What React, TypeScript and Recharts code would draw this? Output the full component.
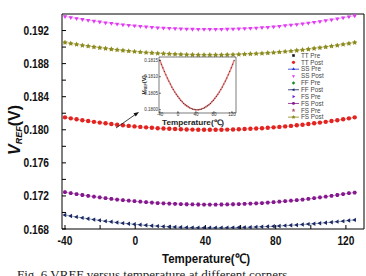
import { LineChart, Line, XAxis, YAxis } from 'recharts'

// temperature sweep (℃)
const temps = [
  -40, -36.7, -33.4, -30.1, -26.8, -23.5, -20.2, -16.9, -13.6, -10.3, -7, -3.7, -0.4, 2.9, 6.2, 9.5, 12.8,
  16.1, 19.4, 22.7, 26, 29.3, 32.6, 35.9, 39.2, 42.5, 45.8, 49.1, 52.4, 55.7, 59, 62.3, 65.6, 68.9, 72.2,
  75.5, 78.8, 82.1, 85.4, 88.7, 92, 95.3, 98.6, 101.9, 105.2, 108.5, 111.8, 115.1, 118.4, 121.7, 125,
]

// VREF (V) per corner
const ssVals = [
  0.1937, 0.19358, 0.19346, 0.19335, 0.19324, 0.19314, 0.19305, 0.19295, 0.19287, 0.19278, 0.19271, 0.19264,
  0.19257, 0.19251, 0.19245, 0.1924, 0.19235, 0.19231, 0.19227, 0.19224, 0.19221, 0.19219, 0.19217, 0.19216,
  0.19215, 0.19215, 0.19215, 0.19216, 0.19217, 0.19219, 0.19222, 0.19224, 0.19228, 0.19232, 0.19236, 0.19241,
  0.19247, 0.19253, 0.1926, 0.19267, 0.19274, 0.19283, 0.19291, 0.19301, 0.1931, 0.19321, 0.19331, 0.19343,
  0.19355, 0.19367, 0.1938,
]
const sfVals = [
  0.19055, 0.19043, 0.19032, 0.19021, 0.19011, 0.19001, 0.18992, 0.18983, 0.18974, 0.18966, 0.18959, 0.18952,
  0.18946, 0.1894, 0.18934, 0.18929, 0.18924, 0.1892, 0.18917, 0.18914, 0.18911, 0.18909, 0.18907, 0.18906,
  0.18905, 0.18905, 0.18905, 0.18906, 0.18907, 0.18909, 0.18911, 0.18914, 0.18917, 0.1892, 0.18924, 0.18929,
  0.18934, 0.1894, 0.18946, 0.18952, 0.18959, 0.18966, 0.18974, 0.18983, 0.18992, 0.19001, 0.19011, 0.19021,
  0.19032, 0.19043, 0.19055,
]
const ttVals = [
  0.1815, 0.18138, 0.18127, 0.18116, 0.18106, 0.18096, 0.18087, 0.18078, 0.18069, 0.18061, 0.18054, 0.18047,
  0.18041, 0.18035, 0.18029, 0.18024, 0.18019, 0.18015, 0.18012, 0.18009, 0.18006, 0.18004, 0.18002, 0.18001,
  0.18, 0.18, 0.18, 0.18001, 0.18002, 0.18004, 0.18006, 0.18009, 0.18012, 0.18015, 0.18019, 0.18024, 0.18029,
  0.18035, 0.18041, 0.18047, 0.18054, 0.18061, 0.18069, 0.18078, 0.18087, 0.18096, 0.18106, 0.18116, 0.18127,
  0.18138, 0.1815,
]
const fsVals = [
  0.17245, 0.17233, 0.17222, 0.17211, 0.17201, 0.17191, 0.17182, 0.17173, 0.17164, 0.17156, 0.17149, 0.17142,
  0.17136, 0.1713, 0.17124, 0.17119, 0.17114, 0.1711, 0.17107, 0.17104, 0.17101, 0.17099, 0.17097, 0.17096,
  0.17095, 0.17095, 0.17095, 0.17096, 0.17097, 0.17099, 0.17101, 0.17104, 0.17107, 0.1711, 0.17114, 0.17119,
  0.17124, 0.1713, 0.17136, 0.17142, 0.17149, 0.17156, 0.17164, 0.17173, 0.17182, 0.17191, 0.17201, 0.17211,
  0.17222, 0.17233, 0.1724,
]
const ffVals = [
  0.1697, 0.16958, 0.16946, 0.16935, 0.16924, 0.16914, 0.16905, 0.16895, 0.16887, 0.16878, 0.16871, 0.16864,
  0.16857, 0.16851, 0.16845, 0.1684, 0.16835, 0.16831, 0.16827, 0.16824, 0.16821, 0.16819, 0.16817, 0.16816,
  0.16815, 0.16815, 0.16815, 0.16816, 0.16816, 0.16817, 0.16819, 0.1682, 0.16822, 0.16825, 0.16827, 0.1683,
  0.16833, 0.16837, 0.16841, 0.16845, 0.16849, 0.16854, 0.16859, 0.16864, 0.1687, 0.16876, 0.16882, 0.16889,
  0.16895, 0.16903, 0.1691,
]

const xTicks = [-40, -20, 0, 20, 40, 60, 80, 100, 120]
const yTicks = [0.168, 0.17, 0.172, 0.174, 0.176, 0.178, 0.18, 0.182, 0.184, 0.186, 0.188, 0.19, 0.192]
const insetXTicks = [-40, 0, 40, 80, 120]
const insetYTicks = [0.18, 0.1805, 0.181, 0.1815]

const series = [
  { name: 'TT Pre', key: 'tt', color: '#111111', shape: 'square', line: false },
  { name: 'TT Post', key: 'tt', color: '#e3231f', shape: 'circle', line: false },
  { name: 'SS Pre', key: 'ss', color: '#2435d0', shape: 'up', line: true },
  { name: 'SS Post', key: 'ss', color: '#e23cf2', shape: 'down', line: false },
  { name: 'FF Pre', key: 'ff', color: '#1c8a22', shape: 'diamond', line: false },
  { name: 'FF Post', key: 'ff', color: '#1b2a66', shape: 'left', line: true },
  { name: 'FS Pre', key: 'fs', color: '#6a22d8', shape: 'right', line: false },
  { name: 'FS Post', key: 'fs', color: '#86188f', shape: 'hex', line: true },
  { name: 'FS Pre', key: 'sf', color: '#b0546a', shape: 'star', line: false },
  { name: 'FS Post', key: 'sf', color: '#8c8a1c', shape: 'pent', line: true },
]

const rows = temps.map((t, i) => ({
  t,
  tt: ttVals[i],
  ss: ssVals[i],
  sf: sfVals[i],
  fs: fsVals[i],
  ff: ffVals[i],
}))

const FONT = 'Arial, "Liberation Sans", sans-serif'

function poly(cx: number, cy: number, r: number, n: number, rot: number, inner?: number) {
  const pts: string[] = []
  const count = inner ? n * 2 : n
  for (let k = 0; k < count; k++) {
    const rr = inner && k % 2 === 1 ? r * inner : r
    const a = rot + (k * Math.PI * 2) / count
    pts.push(`${cx + rr * Math.cos(a)},${cy + rr * Math.sin(a)}`)
  }
  return pts.join(' ')
}

function Mark({ cx, cy, shape, fill, r }: any) {
  if (cx == null || cy == null) return null
  const up = -Math.PI / 2
  switch (shape) {
    case 'square':
      return <rect x={cx - r * 0.8} y={cy - r * 0.8} width={r * 1.6} height={r * 1.6} fill={fill} />
    case 'circle':
      return <circle cx={cx} cy={cy} r={r} fill={fill} />
    case 'up':
      return <polygon points={poly(cx, cy, r * 1.15, 3, up)} fill={fill} />
    case 'down':
      return <polygon points={poly(cx, cy, r * 1.15, 3, Math.PI / 2)} fill={fill} />
    case 'diamond':
      return <polygon points={poly(cx, cy, r * 1.1, 4, up)} fill={fill} />
    case 'left':
      return <polygon points={poly(cx, cy, r * 1.15, 3, Math.PI)} fill={fill} />
    case 'right':
      return <polygon points={poly(cx, cy, r * 1.15, 3, 0)} fill={fill} />
    case 'hex':
      return <polygon points={poly(cx, cy, r, 6, 0)} fill={fill} />
    case 'star':
      return <polygon points={poly(cx, cy, r * 1.3, 5, up, 0.45)} fill={fill} />
    default:
      return <polygon points={poly(cx, cy, r * 1.3, 5, up, 0.5)} fill={fill} />
  }
}

function XTick({ x, y, payload }: any) {
  if (payload.value % 40 !== 0) return null
  return (
    <text
      transform={`translate(${x},${y + 10}) scale(0.85,1)`}
      textAnchor="middle"
      fontFamily={FONT}
      fontWeight="bold"
      fontSize={12}
      fill="#111"
    >
      {payload.value}
    </text>
  )
}

function YTick({ x, y, payload }: any) {
  const v = Math.round(payload.value * 1000)
  if (v % 4 !== 0) return null
  return (
    <text
      transform={`translate(${x},${y + 4.5}) scale(0.85,1)`}
      textAnchor="end"
      fontFamily={FONT}
      fontWeight="bold"
      fontSize={12}
      fill="#111"
    >
      {payload.value.toFixed(3)}
    </text>
  )
}

function InsetXTick({ x, y, payload }: any) {
  return (
    <text x={x} y={y + 4} textAnchor="middle" fontFamily={FONT} fontSize={4.5} fill="#333">
      {payload.value}
    </text>
  )
}

function InsetYTick({ x, y, payload }: any) {
  return (
    <text x={x} y={y + 1.5} textAnchor="end" fontFamily={FONT} fontSize={4.5} fill="#333">
      {payload.value.toFixed(4)}
    </text>
  )
}

export default function App() {
  return (
    <div
      style={{
        position: 'absolute',
        left: 0,
        top: 0,
        width: 366,
        height: 276,
        overflow: 'hidden',
        background: '#fff',
      }}
    >
      <LineChart width={366} height={276} data={rows} margin={{ top: 13, right: 1, left: 0, bottom: 0 }}>
        <XAxis
          xAxisId="b"
          dataKey="t"
          type="number"
          domain={[-41.7, 130.3]}
          allowDataOverflow
          ticks={xTicks}
          interval={0}
          height={47}
          tickSize={-4}
          tickMargin={10}
          tick={<XTick />}
          axisLine={{ stroke: '#000' }}
          tickLine={{ stroke: '#000' }}
        />
        <XAxis
          xAxisId="top"
          orientation="top"
          dataKey="t"
          type="number"
          domain={[-41.7, 130.3]}
          allowDataOverflow
          ticks={xTicks}
          interval={0}
          height={1}
          tickSize={-4}
          tick={false}
          axisLine={{ stroke: '#000' }}
          tickLine={{ stroke: '#000' }}
        />
        <YAxis
          yAxisId="l"
          type="number"
          domain={[0.168, 0.194]}
          allowDataOverflow
          ticks={yTicks}
          interval={0}
          width={62}
          tickSize={-4}
          tickMargin={17}
          tick={<YTick />}
          axisLine={{ stroke: '#000' }}
          tickLine={{ stroke: '#000' }}
        />
        <YAxis
          yAxisId="r"
          orientation="right"
          type="number"
          domain={[0.168, 0.194]}
          allowDataOverflow
          ticks={yTicks}
          interval={0}
          width={1}
          tickSize={-4}
          tick={false}
          axisLine={{ stroke: '#000' }}
          tickLine={{ stroke: '#000' }}
        />
        {series.map((s, i) => {
          const pre = i % 2 === 0
          return (
            <Line
              key={i}
              xAxisId="b"
              yAxisId="l"
              dataKey={s.key}
              name={s.name}
              stroke={s.color}
              strokeWidth={pre ? 0 : 0.6}
              strokeOpacity={pre ? 0 : 0.7}
              isAnimationActive={false}
              dot={(p: any) => (
                <Mark key={`${i}-${p.index}`} cx={p.cx} cy={p.cy} shape={s.shape} fill={s.color} r={pre ? 1 : 2.2} />
              )}
              activeDot={false}
            />
          )
        })}
      </LineChart>

      {/* inset: TT corner zoomed */}
      <div style={{ position: 'absolute', left: 140, top: 52 }}>
        <LineChart width={100} height={80} data={rows} margin={{ top: 4, right: 3, left: 0, bottom: 0 }}>
          <XAxis
            xAxisId="b"
            dataKey="t"
            type="number"
            domain={[-42, 129]}
            allowDataOverflow
            ticks={insetXTicks}
            interval={0}
            height={19}
            tickSize={-2}
            tickMargin={1}
            tick={<InsetXTick />}
            axisLine={{ stroke: '#222', strokeWidth: 0.6 }}
            tickLine={{ stroke: '#222', strokeWidth: 0.6 }}
          />
          <XAxis
            xAxisId="top"
            orientation="top"
            dataKey="t"
            type="number"
            domain={[-42, 129]}
            allowDataOverflow
            ticks={insetXTicks}
            interval={0}
            height={1}
            tickSize={-2}
            tick={false}
            axisLine={{ stroke: '#222', strokeWidth: 0.6 }}
            tickLine={{ stroke: '#222', strokeWidth: 0.6 }}
          />
          <YAxis
            yAxisId="l"
            type="number"
            domain={[0.1799, 0.1816]}
            allowDataOverflow
            ticks={insetYTicks}
            interval={0}
            width={19}
            tickSize={-2}
            tickMargin={3}
            tick={<InsetYTick />}
            axisLine={{ stroke: '#222', strokeWidth: 0.6 }}
            tickLine={{ stroke: '#222', strokeWidth: 0.6 }}
          />
          <YAxis
            yAxisId="r"
            orientation="right"
            type="number"
            domain={[0.1799, 0.1816]}
            allowDataOverflow
            ticks={insetYTicks}
            interval={0}
            width={1}
            tickSize={-2}
            tick={false}
            axisLine={{ stroke: '#222', strokeWidth: 0.6 }}
            tickLine={{ stroke: '#222', strokeWidth: 0.6 }}
          />
          <Line
            xAxisId="b"
            yAxisId="l"
            dataKey="tt"
            stroke="#f08080"
            strokeWidth={1.6}
            dot={false}
            isAnimationActive={false}
          />
          <Line
            xAxisId="b"
            yAxisId="l"
            dataKey="tt"
            stroke="none"
            dot={{ r: 0.5, fill: '#111', stroke: 'none' }}
            isAnimationActive={false}
          />
        </LineChart>
      </div>

      <svg
        width={366}
        height={276}
        style={{ position: 'absolute', left: 0, top: 0, pointerEvents: 'none' }}
        fontFamily={FONT}
      >
        {/* arrow toward inset */}
        <line x1={116} y1={128} x2={136} y2={114} stroke="#111" strokeWidth={0.8} />
        <polygon points="139,112 133.5,113.2 135.8,116.4" fill="#111" />

        {/* legend */}
        {series.map((s, i) => {
          const y = 55.5 + i * 6.85
          return (
            <g key={i}>
              {s.line && <line x1={288} x2={299} y1={y} y2={y} stroke={s.color} strokeWidth={0.8} />}
              <Mark cx={293.5} cy={y} shape={s.shape} fill={s.color} r={1.6} />
              <text x={301} y={y + 2.2} fontSize={6.3} fill="#444">
                {s.name}
              </text>
            </g>
          )
        })}

        {/* inset axis titles */}
        <text transform="translate(146,85) rotate(-90)" textAnchor="middle" fontSize={6} fontWeight="bold" fill="#222">
          <tspan fontStyle="italic">V</tspan>
          <tspan fontSize={3.8} dy={1}>
            REF
          </tspan>
          <tspan dy={-1}>(V)</tspan>
        </text>
        <text
          x={193}
          y={125}
          textAnchor="middle"
          fontSize={7.5}
          fontWeight="bold"
          fill="#222"
          textLength={62}
          lengthAdjust="spacingAndGlyphs"
        >
          Temperature(℃)
        </text>

        {/* main axis titles */}
        <text transform="translate(20,130) rotate(-90)" textAnchor="middle" fontSize={16} fontWeight="bold" fill="#111">
          <tspan fontStyle="italic">V</tspan>
          <tspan fontSize={9} fontStyle="italic" dy={2}>
            REF
          </tspan>
          <tspan dy={-2}>(V)</tspan>
        </text>
        <text
          x={206}
          y={263}
          textAnchor="middle"
          fontSize={13}
          fontWeight="bold"
          fill="#111"
          textLength={88}
          lengthAdjust="spacingAndGlyphs"
        >
          Temperature(℃)
        </text>

        {/* figure caption */}
        <text x={17} y={279} fontFamily={'"Times New Roman", "Liberation Serif", serif'} fontSize={13} fill="#222">
          Fig. 6 VREF versus temperature at different corners
        </text>
      </svg>
    </div>
  )
}
